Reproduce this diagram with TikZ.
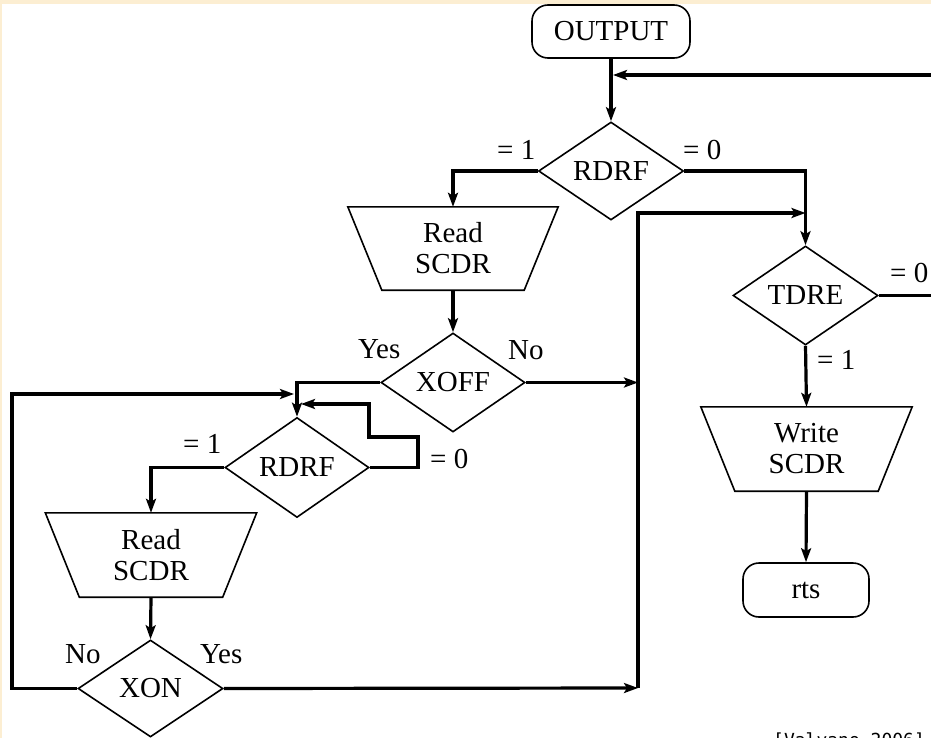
\documentclass[tikz,border=0pt]{standalone}
\usepackage{fontspec}
\setmainfont{Liberation Serif}
\newfontfamily\citefont{DejaVu Sans Mono}
\usetikzlibrary{shapes.geometric,arrows.meta,calc}
\definecolor{beige}{RGB}{252,238,210}
\begin{document}
\begin{tikzpicture}[x=1pt,y=-1pt,
  txt/.style={font=\fontsize{29}{31}\selectfont},
  dec/.style={diamond,draw,line width=1.6pt,inner sep=0pt,txt},
  term/.style={rectangle,draw,line width=1.6pt,rounded corners=16pt,inner sep=0pt,txt},
  trapbox/.style={rectangle,inner sep=0pt,align=center,txt},
  trapline/.style={line width=1.6pt,line join=miter},
  conn/.style={line width=3.2pt,line join=miter},
  arr/.style={conn,-{Stealth[length=14pt,width=10pt,inset=3pt]}},
  lab/.style={anchor=base west,inner sep=0pt,txt}]
\useasboundingbox (0,0) rectangle (931,738);
\clip (0,0) rectangle (931,738);
\fill[beige] (0,0) rectangle (931,4);
\fill[beige] (0,0) rectangle (2,738);

% nodes
\node[term,minimum width=158pt,minimum height=53pt] (out) at (611,31.5) {OUTPUT};
\node[dec,minimum width=145pt,minimum height=98pt] (rdrf1) at (611,171) {RDRF};
\node[trapbox,minimum width=210pt,minimum height=83pt] (rs1) at (453,248.5) {Read\\SCDR};
\node[dec,minimum width=144pt,minimum height=99pt] (xoff) at (453,382.5) {XOFF};
\node[dec,minimum width=144pt,minimum height=100pt] (rdrf2) at (297,467.5) {RDRF};
\node[trapbox,minimum width=211pt,minimum height=84pt] (rs2) at (151,555) {Read\\SCDR};
\node[dec,minimum width=145pt,minimum height=97pt] (xon) at (150.5,688.5) {XON};
\node[dec,minimum width=145pt,minimum height=99pt] (tdre) at (805.5,295.5) {TDRE};
\node[trapbox,minimum width=211pt,minimum height=84pt] (ws) at (806.5,449) {Write\\SCDR};
\node[term,minimum width=126pt,minimum height=54pt] (rts) at (806,590) {rts};

% trapezoid outlines
\foreach \n in {rs1,rs2,ws}{
  \draw[trapline] (\n.north west) -- (\n.north east) -- ([xshift=-34pt]\n.south east)
    -- ([xshift=34pt]\n.south west) -- cycle;
}

% labels
\node[lab] (l1) at (497,160) {= 1};
\node[lab] (l2) at (683,160) {= 0};
\node[lab] (l3) at (358,358) {Yes};
\node[lab] (l4) at (508,359) {No};
\node[lab] (l5) at (183,453) {= 1};
\node[lab] (l6) at (430,468) {= 0};
\node[lab] (l7) at (65,663) {No};
\node[lab] (l8) at (200,663) {Yes};
\node[lab] (l9) at (890,282) {= 0};
\node[lab] (l10) at (817,369) {= 1};
\node[anchor=base west,inner sep=0pt,font=\citefont\fontsize{18}{20}\selectfont] (cite) at (773,746) {[Valvano 2006]};

% coordinates
\coordinate (j1) at (613,75);
\coordinate (vtop) at (638,213);
\coordinate (vbot) at (638,688);
\coordinate (lj) at (294,394);
\coordinate (rj) at (301,404);

% connectors
\draw[arr] (out.south) -- (rdrf1.north);
\draw[arr] (tdre.east) -- ++(70,0) |- (j1);
\draw[arr] (rdrf1.east) -| (tdre.north);
\draw[arr] (rdrf1.west) -| (rs1.north);
\draw[arr] (rs1.south) -- (xoff.north);
\draw[arr] (xoff.east) -- (xoff.east -| vtop);
\draw[arr] (xon.east) -- (vbot);
\draw[arr] (vbot) -- (vtop) -- (vtop -| tdre.north);
\draw[arr] (xoff.west) -| (rdrf2.north);
\draw[arr] (xon.west) -- (12,688.5) |- (lj);
\draw[arr] (rdrf2.east) -- (418,467.5) -- (418,437) -- (369,437) -- (369,404) -- (rj);
\draw[arr] (rdrf2.west) -| (rs2.north);
\draw[arr] (rs2.south) -- (xon.north);
\draw[arr] (tdre.south) -- (ws.north);
\draw[arr] (ws.south) -- (rts.north);
\end{tikzpicture}
\end{document}
